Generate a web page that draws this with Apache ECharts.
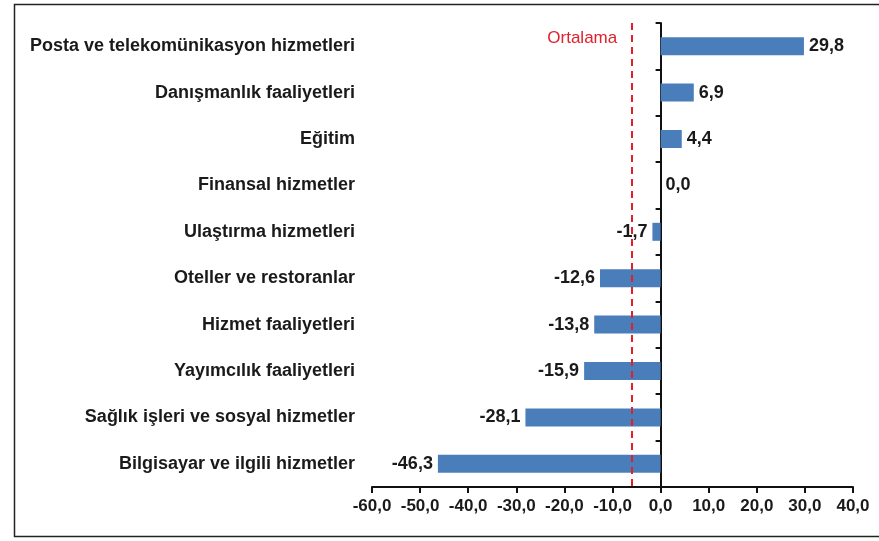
<!DOCTYPE html>
<html>
<head>
<meta charset="utf-8">
<script src="https://cdn.jsdelivr.net/npm/echarts@6/dist/echarts.min.js"></script>
<style>
  html, body { margin: 0; padding: 0; background: #fff; }
  #chart { width: 879px; height: 541px; }
</style>
</head>
<body>
<div id="chart"></div>
<script>
// sektörler (yukarıdan aşağıya)
const categories = [
  'Posta ve telekomünikasyon hizmetleri',
  'Danışmanlık faaliyetleri',
  'Eğitim',
  'Finansal hizmetler',
  'Ulaştırma hizmetleri',
  'Oteller ve restoranlar',
  'Hizmet faaliyetleri',
  'Yayımcılık faaliyetleri',
  'Sağlık işleri ve sosyal hizmetler',
  'Bilgisayar ve ilgili hizmetler'
];
const values = [29.8, 6.9, 4.4, 0.0, -1.7, -12.6, -13.8, -15.9, -28.1, -46.3];
const averageValue = -5.9;
const averageLabel = 'Ortalama';
const xMin = -60, xMax = 40, xStep = 10;

const fmt = v => v.toFixed(1).replace('.', ',');
const font = '"Liberation Sans", Arial, sans-serif';
const textColor = '#1a1a1a';
const red = '#e0202a';

const chart = echarts.init(document.getElementById('chart'));

const option = {
  backgroundColor: '#fff',
  animation: false,
  grid: { left: 372, right: 26, top: 23, bottom: 54 },
  xAxis: {
    type: 'value',
    min: xMin,
    max: xMax,
    interval: xStep,
    axisLine: { show: true, onZero: false, lineStyle: { color: '#111', width: 2 } },
    axisTick: { show: true, length: 6, lineStyle: { color: '#111', width: 2 } },
    axisLabel: {
      formatter: v => fmt(v),
      color: textColor,
      fontFamily: font,
      fontWeight: 'bold',
      fontSize: 17,
      margin: 11
    },
    splitLine: { show: false }
  },
  yAxis: [
    {
      // sadece kategori yazıları
      type: 'category',
      data: categories,
      inverse: true,
      position: 'left',
      axisLine: { show: false, onZero: false },
      axisTick: { show: false },
      axisLabel: {
        color: textColor,
        fontFamily: font,
        fontWeight: 'bold',
        fontSize: 18,
        margin: 17
      }
    },
    {
      // sıfır çizgisi ve tikler
      type: 'category',
      data: categories,
      inverse: true,
      position: 'right',
      offset: 0,
      axisLine: { show: true, onZero: false, lineStyle: { color: '#111', width: 2 } },
      axisTick: { show: true, inside: true, length: 5, lineStyle: { color: '#111', width: 2 } },
      axisLabel: { show: false }
    }
  ],
  series: [
    {
      type: 'bar',
      yAxisIndex: 0,
      data: values.map(v => ({
        value: v,
        // negatif değerler için etiket sola
        label: { position: v < 0 ? 'left' : 'right' }
      })),
      barWidth: 18,
      itemStyle: { color: '#4a7ebb' },
      label: {
        show: true,
        formatter: p => fmt(p.value),
        color: textColor,
        fontFamily: font,
        fontWeight: 'bold',
        fontSize: 18,
        distance: 5
      },
      markLine: {
        symbol: 'none',
        silent: true,
        lineStyle: { color: red, type: [7, 5], width: 2 },
        label: { show: false },
        data: [{ xAxis: averageValue }]
      }
    }
  ]
};

chart.setOption(option);

// sıfır ekseni konumu, "Ortalama" yazısı ve çerçeve
const zeroX = chart.convertToPixel({ xAxisIndex: 0 }, 0);
const maxX = chart.convertToPixel({ xAxisIndex: 0 }, xMax);
const pt = chart.convertToPixel({ xAxisIndex: 0, yAxisIndex: 0 }, [averageValue, categories[0]]);
chart.setOption({
  yAxis: [{}, { offset: -(maxX - zeroX) }],
  graphic: [
    {
      type: 'rect',
      shape: { x: 14.5, y: 4.5, width: 880, height: 532 },
      style: { fill: 'none', stroke: '#222', lineWidth: 1.5 }
    },
    {
      type: 'text',
      x: pt[0] - 15,
      y: pt[1] - 8,
      style: {
        text: averageLabel,
        fill: red,
        font: '17px ' + font,
        textAlign: 'right',
        textVerticalAlign: 'middle'
      }
    }
  ]
});
</script>
</body>
</html>
